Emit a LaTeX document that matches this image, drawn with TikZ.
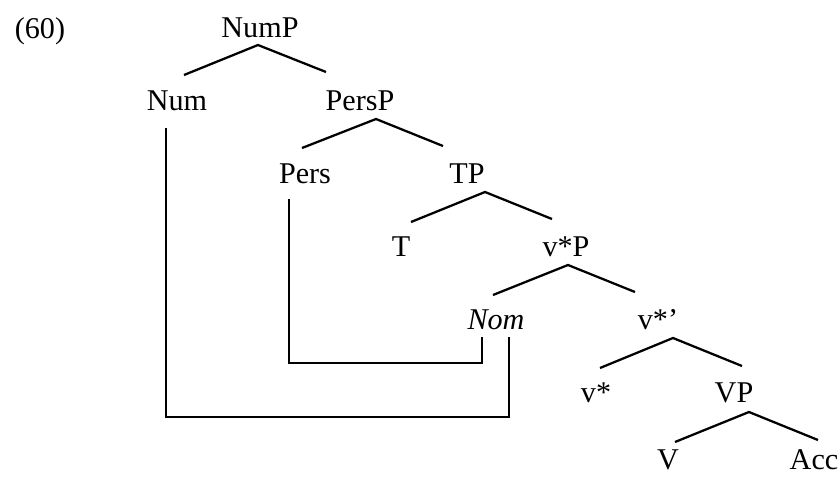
\documentclass[tikz,border=0pt]{standalone}
\usepackage{fontspec}
\setmainfont{Liberation Serif}
\usetikzlibrary{calc}

\begin{document}
\begin{tikzpicture}[x=0.75pt, y=-0.75pt,
  cat/.style={anchor=base, inner sep=0pt, font=\fontsize{22.6}{26}\selectfont},
  branch/.style={line width=1.7pt},
  link/.style={line width=1pt}]
  \useasboundingbox (0,0) rectangle (840,476);

  % Example number
  \node[cat] (exnum) at (40,38) {(60)};

  % Labels of the tree, one row per level
  \node[cat] (NumP) at (260,37) {NumP};
  \node[cat] (Num) at (177,110) {Num};
  \node[cat] (PersP) at (360,110) {PersP};
  \node[cat] (Pers) at (305,183) {Pers};
  \node[cat] (TP) at (467,183) {TP};
  \node[cat] (T) at (401,256) {T};
  \node[cat] (vP) at (566,256) {v*P};
  \node[cat] (Nom) at (496,329) {\itshape Nom};
  \node[cat] (vbar) at (658,329) {v*’};
  \node[cat] (vhead) at (596,402) {v*};
  \node[cat] (VP) at (734,402) {VP};
  \node[cat] (V) at (668,469) {V};
  \node[cat] (Acc) at (814,469) {Acc};

  % Branches
  \draw[branch] ($(Num.base)+(7,-35)$) -- ($(NumP.base)+(-2,8)$) -- ($(PersP.base)+(-34,-38)$);
  \draw[branch] ($(Pers.base)+(-3,-35)$) -- ($(PersP.base)+(16,9)$) -- ($(TP.base)+(-24,-37)$);
  \draw[branch] ($(T.base)+(10,-34)$) -- ($(TP.base)+(18,9)$) -- ($(vP.base)+(-14,-37)$);
  \draw[branch] ($(Nom.base)+(-3,-34)$) -- ($(vP.base)+(2,9)$) -- ($(vbar.base)+(-23,-37)$);
  \draw[branch] ($(vhead.base)+(4,-34)$) -- ($(vbar.base)+(15,9)$) -- ($(VP.base)+(8,-36)$);
  \draw[branch] ($(V.base)+(7,-27)$) -- ($(VP.base)+(15,10)$) -- ($(Acc.base)+(4,-29)$);

  % Links from Nom up to Pers and Num
  \draw[link] ($(Pers.base)+(-16,16)$) -- ($(Pers.base)+(-16,180)$) -| ($(Nom.base)+(-14,8)$);
  \draw[link] ($(Num.base)+(-11,18)$) -- ($(Num.base)+(-11,307)$) -| ($(Nom.base)+(13,8)$);
\end{tikzpicture}
\end{document}
